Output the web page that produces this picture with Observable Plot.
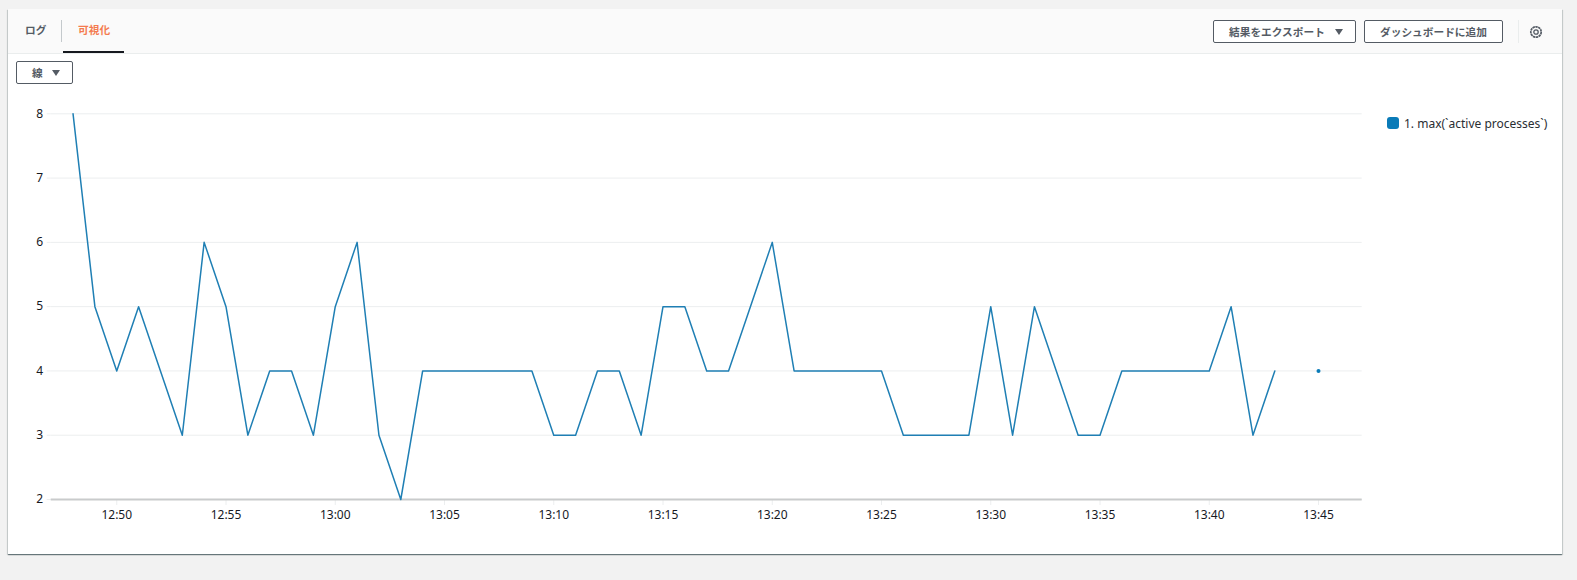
<!DOCTYPE html>
<html lang="ja">
<head>
<meta charset="utf-8">
<script src="https://cdn.jsdelivr.net/npm/d3@7"></script>
<script src="https://cdn.jsdelivr.net/npm/@observablehq/plot@0.6"></script>
<style>
html,body{margin:0;padding:0;background:#f2f2f2;width:1577px;height:580px;overflow:hidden;font-family:"Noto Sans CJK JP","Noto Sans",sans-serif}
#panel{position:absolute;left:8px;top:9px;width:1554px;height:545px;background:#fff;box-shadow:0 1px 1px 0 rgba(0,28,36,.45),1px 1px 1px 0 rgba(0,28,36,.12),-1px 1px 1px 0 rgba(0,28,36,.12)}
#head{position:absolute;left:8px;top:9px;width:1554px;height:44px;background:#fafafa;border-bottom:1px solid #eaeded}
.t{position:absolute;font-size:10.7px;font-weight:700;color:#545b64;white-space:nowrap;line-height:14px}
.btn{position:absolute;box-sizing:border-box;border:1px solid #545b64;border-radius:2px;background:#fff;font-size:10.7px;font-weight:700;color:#545b64;white-space:nowrap;line-height:21px}
.btn span{position:absolute;top:0}
.btn i{position:absolute;top:8px;width:0;height:0;border-left:4.5px solid transparent;border-right:4.5px solid transparent;border-top:6px solid #545b64}
.sep{position:absolute;width:1px;background:#c4c9cc}
#chart{position:absolute;left:0;top:0}
#chart svg{display:block}
#swatch{position:absolute;left:1387px;top:117px;width:12px;height:12px;border-radius:3px;background:#0a7bb8}
#legend{position:absolute;left:1404px;top:116px;font:12px/16px "Noto Sans",sans-serif;color:#2a2e33;white-space:nowrap}
</style>
</head>
<body>
<div id="panel"></div>
<div id="head"></div>
<div class="t" style="left:25px;top:23px">ログ</div>
<div class="sep" style="left:61px;top:20px;height:22px"></div>
<div class="t" style="left:78px;top:23px;color:#f47b4f">可視化</div>
<div style="position:absolute;left:63px;top:51px;width:61px;height:2px;background:#16191f"></div>
<div class="btn" style="left:16px;top:61px;width:57px;height:23px"><span style="left:15px">線</span><i style="left:35px"></i></div>
<div class="btn" style="left:1213px;top:20px;width:143px;height:23px"><span style="left:15px">結果をエクスポート</span><i style="left:121px"></i></div>
<div class="btn" style="left:1364px;top:20px;width:139px;height:23px"><span style="left:15px">ダッシュボードに追加</span></div>
<div class="sep" style="left:1518px;top:20px;height:23px;background:#eaeded"></div>
<svg style="position:absolute;left:1529px;top:25px" width="14" height="14" viewBox="0 0 14 14"><circle cx="7" cy="7" r="5.2" fill="none" stroke="#545b64" stroke-width="1.7" stroke-dasharray="2.4 .5"/><circle cx="7" cy="7" r="2.2" fill="none" stroke="#545b64" stroke-width="1.3"/></svg>
<div id="chart"></div>
<div id="swatch"></div>
<div id="legend">1. max(`active processes`)</div>
<script>
const times = ["12:48","12:49","12:50","12:51","12:52","12:53","12:54","12:55","12:56","12:57","12:58","12:59",
  "13:00","13:01","13:02","13:03","13:04","13:05","13:06","13:07","13:08","13:09","13:10","13:11","13:12","13:13","13:14","13:15","13:16","13:17","13:18","13:19",
  "13:20","13:21","13:22","13:23","13:24","13:25","13:26","13:27","13:28","13:29","13:30","13:31","13:32","13:33","13:34","13:35","13:36","13:37","13:38","13:39",
  "13:40","13:41","13:42","13:43","13:44","13:45"];
const processes = [8,5,4,5,4,3,6,5,3,4,4,3,
  5,6,3,2,4,4,4,4,4,4,3,3,4,4,3,5,5,4,4,5,
  6,4,4,4,4,4,3,3,3,3,5,3,5,4,3,3,4,4,4,4,
  4,5,3,4,null,4];
const xTickLabels = ["12:50","12:55","13:00","13:05","13:10","13:15","13:20","13:25","13:30","13:35","13:40","13:45"];
const yTicks = [2,3,4,5,6,7,8];
const xDomain = ["12:47","13:47"];

const toDate = s => new Date(`2020-01-01T${s}:00Z`);
const rows = times.map((t,i) => ({time: toDate(t), value: processes[i]}));
const isolated = rows.filter((r,i) => r.value != null && rows[i-1]?.value == null && rows[i+1]?.value == null);
const FONT = '"Noto Sans",sans-serif';

const plot = Plot.plot({
  width: 1577, height: 580,
  marginLeft: 50.7, marginRight: 215.3, marginTop: 113.3, marginBottom: 81,
  style: {background: "transparent", fontFamily: FONT, fontSize: "12px", color: "#16191f"},
  x: {type: "utc", domain: xDomain.map(toDate)},
  y: {domain: [2,8]},
  marks: [
    Plot.gridY(yTicks, {stroke: "#eceeef", strokeOpacity: 1, strokeWidth: 1}),
    Plot.axisY(yTicks, {anchor: "left", label: null, tickSize: 4, stroke: "#eceeef", strokeOpacity: 1, tickPadding: 4, fontSize: 12, fill: "#16191f", tickFormat: d3.format("d")}),
    Plot.axisX(xTickLabels.map(toDate), {anchor: "bottom", label: null, tickSize: 6, stroke: "#eceeef", strokeOpacity: 1, tickPadding: 5, fontSize: 12, fill: "#16191f", tickFormat: d3.utcFormat("%H:%M")}),
    Plot.ruleY([2], {stroke: "#c9cbcc", strokeWidth: 2}),
    Plot.line(rows, {x: "time", y: "value", stroke: "#1f7fb4", strokeWidth: 1.5, curve: "linear"}),
    Plot.dot(isolated, {x: "time", y: "value", r: 2, fill: "#0a7bb8", stroke: "none"})
  ]
});
document.getElementById("chart").append(plot);
</script>
</body>
</html>
